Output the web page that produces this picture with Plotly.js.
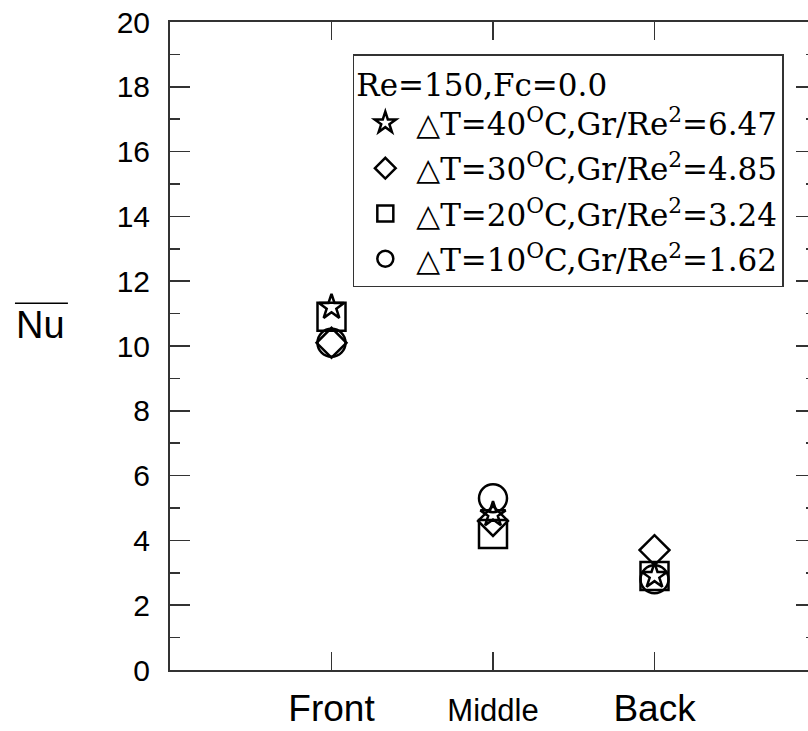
<!DOCTYPE html>
<html>
<head>
<meta charset="utf-8">
<script src="https://cdn.plot.ly/plotly-3.0.1.min.js"></script>
<style>
  body { margin: 0; overflow: hidden; background: #fff; }
  #graph { width: 830px; height: 731px; }
</style>
</head>
<body>
<div id="graph"></div>
<script>
// positions along the plate
const positions = ['Front', 'Middle', 'Back'];
const positionLabels = [
    'Front',
    '<span style="font-size:31px">Middle</span>',
    'Back'
];

// average Nusselt number for each temperature difference
const nu40 = [11.2, 4.8, 2.9];
const nu30 = [10.1, 4.6, 3.7];
const nu20 = [10.9, 4.2, 2.9];
const nu10 = [10.1, 5.3, 2.8];

const seriesNames = [
    '\u25B3T=40<sup>O</sup>C,Gr/Re<sup>2</sup>=6.47',
    '\u25B3T=30<sup>O</sup>C,Gr/Re<sup>2</sup>=4.85',
    '\u25B3T=20<sup>O</sup>C,Gr/Re<sup>2</sup>=3.24',
    '\u25B3T=10<sup>O</sup>C,Gr/Re<sup>2</sup>=1.62'
];

const axisColor = '#333333';
const serif = 'DejaVu Serif, Liberation Serif, serif';

function series(y, name, symbol, size) {
    return {
        x: positions,
        y: y,
        name: name,
        legendgroup: name,
        type: 'scatter',
        mode: 'markers',
        cliponaxis: false,
        marker: {
            symbol: symbol,
            size: size,
            color: '#000',
            line: { color: '#000', width: 2.5 }
        }
    };
}

const traces = [
    series(nu40, seriesNames[0], 'star-open', 19),
    series(nu30, seriesNames[1], 'diamond-open', 23),
    series(nu20, seriesNames[2], 'square-open', 28),
    series(nu10, seriesNames[3], 'circle-open', 28)
];

const layout = {
    width: 830,
    height: 731,
    margin: { l: 170, r: 14, t: 22, b: 61 },
    paper_bgcolor: '#fff',
    plot_bgcolor: '#fff',
    showlegend: true,
    font: { family: 'Liberation Sans, Arial, sans-serif', color: '#000' },
    legend: {
        x: 0.283,
        y: 0.95,
        xanchor: 'left',
        yanchor: 'top',
        bgcolor: '#fff',
        bordercolor: axisColor,
        borderwidth: 1.5,
        itemwidth: 52,
        traceorder: 'grouped',
        tracegroupgap: 2,
        font: { family: serif, size: 31, color: '#000' },
        title: {
            text: 'Re=150,Fc=0.0',
            font: { family: serif, size: 31, color: '#000' }
        }
    },
    xaxis: {
        type: 'category',
        categoryorder: 'array',
        categoryarray: positions,
        range: [-1, 3],
        tickvals: positions,
        ticktext: positionLabels,
        ticks: 'inside',
        ticklen: 18,
        tickwidth: 1.5,
        tickcolor: axisColor,
        showline: true,
        linecolor: axisColor,
        linewidth: 2,
        mirror: 'ticks',
        showgrid: false,
        zeroline: false,
        ticklabelstandoff: 5,
        tickfont: { family: 'Liberation Sans, Arial, sans-serif', size: 37, color: '#000' }
    },
    yaxis: {
        range: [0, 20],
        dtick: 2,
        ticks: 'inside',
        ticklen: 20,
        tickwidth: 1.5,
        tickcolor: axisColor,
        minor: { dtick: 1, ticks: 'inside', ticklen: 10, tickwidth: 1.5, tickcolor: axisColor, showgrid: false },
        showline: true,
        linecolor: axisColor,
        linewidth: 2,
        mirror: 'ticks',
        showgrid: false,
        zeroline: false,
        ticklabelstandoff: 12,
        tickfont: { family: 'Liberation Sans, Arial, sans-serif', size: 30, color: '#000' }
    },
    annotations: [{
        text: 'Nu',
        xref: 'paper',
        yref: 'paper',
        x: -0.2,
        y: 0.532,
        xanchor: 'center',
        yanchor: 'middle',
        showarrow: false,
        font: { family: 'Liberation Sans, Arial, sans-serif', size: 38, color: '#000' }
    }],
    shapes: [{
        type: 'line',
        xref: 'paper',
        yref: 'paper',
        x0: -0.24,
        x1: -0.158,
        y0: 0.566,
        y1: 0.566,
        line: { color: '#000', width: 1.5 }
    }]
};

Plotly.newPlot('graph', traces, layout, { displayModeBar: false, staticPlot: true });
</script>
</body>
</html>
